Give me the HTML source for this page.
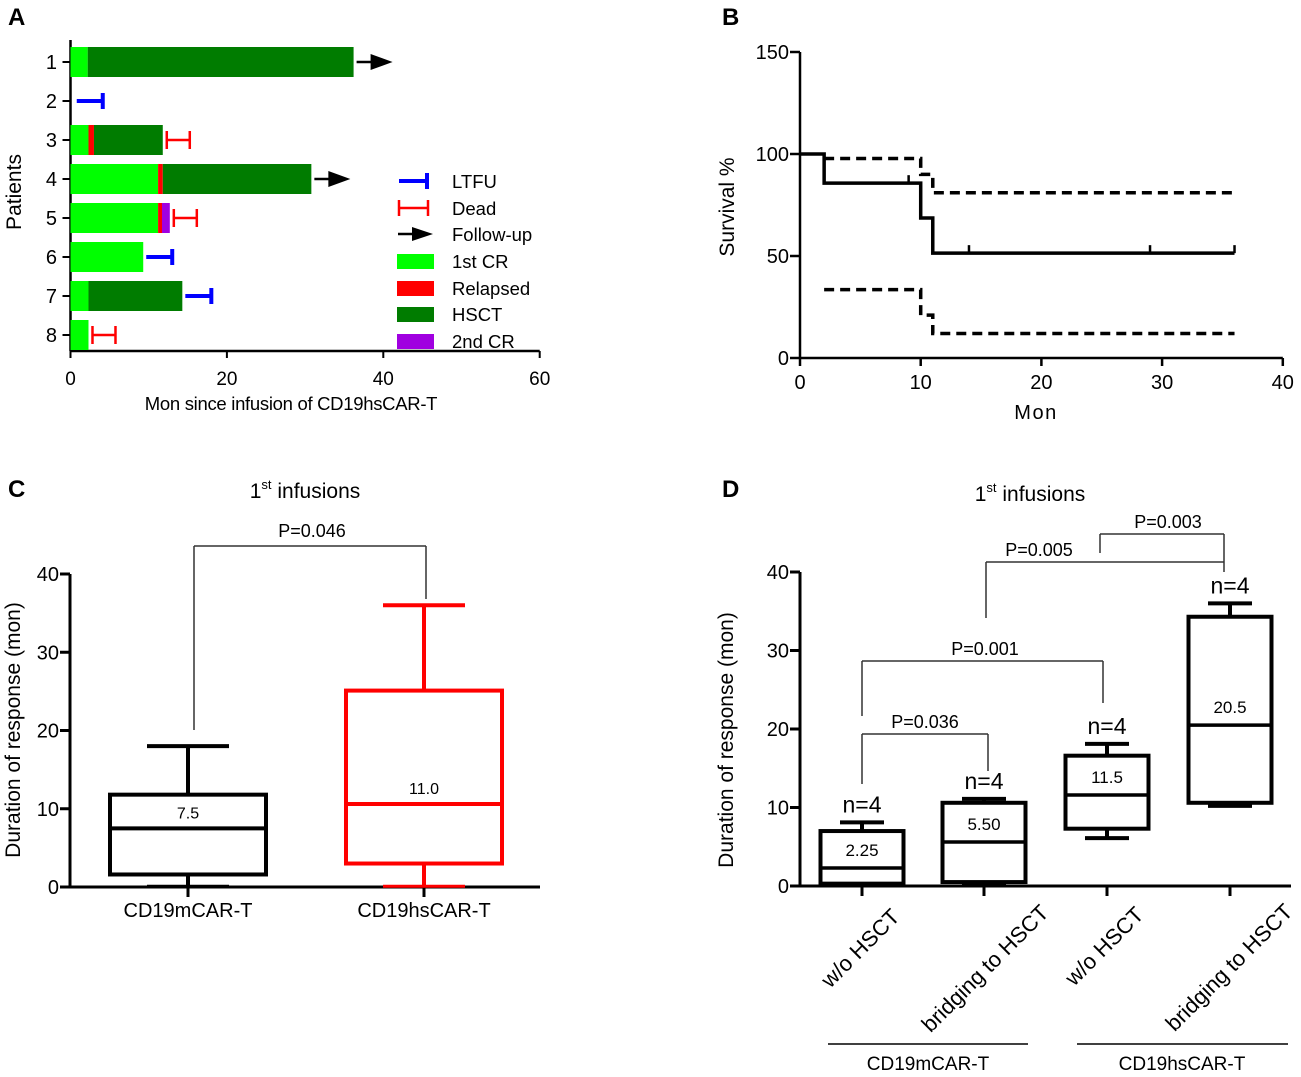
<!DOCTYPE html>
<html><head><meta charset="utf-8"><style>
html,body{margin:0;padding:0;background:#fff;}
svg{display:block;font-family:"Liberation Sans",Arial,sans-serif;}
</style></head><body>
<svg id="fig" width="1301" height="1077" viewBox="0 0 1301 1077" xmlns="http://www.w3.org/2000/svg">
<g id="A"></g>
<g id="B"></g>
<g id="C"></g>
<g id="D"></g>
</svg>
<script>
// ---- Panel A data ----
const patients = ["1","2","3","4","5","6","7","8"];
const cr1End = [2.2, 0, 2.3, 11.2, 11.2, 9.3, 2.3, 2.3];
const relapseEnd = [2.2, 0, 3.0, 11.8, 11.7, 9.3, 2.3, 2.3];
const cr2End = [2.2, 0, 3.0, 11.8, 12.7, 9.3, 2.3, 2.3];
const hsctEnd = [36.2, 0, 11.8, 30.8, 12.7, 9.3, 14.3, 2.3];
const outcome = ["follow","ltfu","dead","follow","dead","ltfu","ltfu","dead"];
const aTicks = [0,20,40,60];
// ---- Panel B data ----
const kmTimes = [0,2,10,11,36];
const kmSurv = [100,85.7,68.6,51.4,51.4];
const kmUpper = [null,97.8,90,81,81];
const kmLower = [null,33.5,21,12,12];
const kmCensor = [9,14,29,36];
const bXTicks = [0,10,20,30,40];
const bYTicks = [0,50,100,150];
// ---- Panel C data ----
const cGroups = ["CD19mCAR-T","CD19hsCAR-T"];
const cMin = [0.1,0.1];
const cQ1 = [1.6,3.0];
const cMed = [7.5,10.6];
const cQ3 = [11.8,25.1];
const cMax = [18,36];
const cMedLabels = ["7.5","11.0"];
const cColors = ["#000","#f00"];
const cYTicks = [0,10,20,30,40];
// ---- Panel D data ----
const dGroups = ["w/o HSCT","bridging to HSCT","w/o HSCT","bridging to HSCT"];
const dMin = [0.2,0.3,6.1,10.2];
const dQ1 = [0.3,0.5,7.3,10.6];
const dMed = [2.3,5.6,11.6,20.5];
const dQ3 = [7.0,10.6,16.6,34.3];
const dMax = [8.1,11.1,18.1,36];
const dMedLabels = ["2.25","5.50","11.5","20.5"];
const dYTicks = [0,10,20,30,40];

const NS="http://www.w3.org/2000/svg";
function mk(parent,tag,attrs,text){const e=document.createElementNS(NS,tag);for(const k in attrs)e.setAttribute(k,attrs[k]);if(text!==undefined)e.textContent=text;parent.appendChild(e);return e;}
function line(p,x1,y1,x2,y2,w,c,name,dash){const e=mk(p,'line',{x1,y1,x2,y2,stroke:c||'#000','stroke-width':w||2});if(dash)e.setAttribute('stroke-dasharray',dash);

return e;}
function txt(p,x,y,s,size,anchor,name,extra){const e=mk(p,'text',Object.assign({x,y,'font-size':size||18,'text-anchor':anchor||'middle',fill:'#000'},extra||{}),s);

return e;}

// ===== Panel A =====
(function(){
const g=document.getElementById('A');
const x0=70.5, ppu=7.82, y1=62, dy=39, bh=30;
const X=v=>x0+v*ppu; const Y=i=>y1+i*dy;
txt(g,8,25,'A',24,'start','panel-letter-a',{'font-weight':'bold'});
line(g,x0,40,x0,351,2.5,'#000','y-axis');
line(g,x0-1,351,X(60),351,2.5,'#000','x-axis');
aTicks.forEach(t=>{line(g,X(t),351,X(t),358,2,'#000','x-tick');txt(g,X(t),385,String(t),19,'middle','x-tick-label');});
patients.forEach((p,i)=>{
 const y=Y(i);
 line(g,x0-8,y,x0,y,2,'#000','y-tick');
 txt(g,57,y+7,p,20,'end','y-tick-label');
 const segs=[[0,cr1End[i],'#00ff00','bar-1st-cr'],[cr1End[i],relapseEnd[i],'#ff0000','bar-relapsed'],[relapseEnd[i],cr2End[i],'#a000e0','bar-2nd-cr'],[cr2End[i],hsctEnd[i],'#007c00','bar-hsct']];
 segs.forEach(s=>{if(s[1]>s[0]){const r=mk(g,'rect',{x:X(s[0]),y:y-bh/2,width:X(s[1])-X(s[0]),height:bh,fill:s[2]});
 
 }});
 const end=Math.max(hsctEnd[i],cr2End[i]);
 const ex=X(end)+3;
 if(outcome[i]==='follow'){line(g,ex,y,ex+18,y,2.5,'#000','follow-up-arrow');const a=mk(g,'polygon',{points:`${ex+14},${y-8} ${ex+36},${y} ${ex+14},${y+8}`,fill:'#000'});
 
 }
 else if(outcome[i]==='ltfu'){const sx=(i===1)?X(0.8):ex;line(g,sx,y,sx+26,y,4,'#0000ff','ltfu-marker');line(g,sx+26,y-8,sx+26,y+8,4,'#0000ff','ltfu-cap');}
 else {line(g,ex,y,ex+24,y,2.5,'#ff0000','dead-marker');line(g,ex+1,y-9,ex+1,y+9,2.5,'#ff0000','dead-cap');line(g,ex+24,y-9,ex+24,y+9,2.5,'#ff0000','dead-cap');}
});
txt(g,21,192,'Patients',21,'middle','y-axis-title',{transform:'rotate(-90 21 192)'});
txt(g,291,410,'Mon since infusion of CD19hsCAR-T',18.5,'middle','x-axis-title',{'letter-spacing':'-0.3'});
const leg=[['LTFU','ltfu',181],['Dead','dead',208],['Follow-up','follow',234],['1st CR','#00ff00',261],['Relapsed','#ff0000',288],['HSCT','#007c00',314],['2nd CR','#a000e0',341]];
leg.forEach(l=>{const y=l[2];
 if(l[1]==='ltfu'){line(g,399,y,427,y,4,'#0000ff','legend-ltfu-icon');line(g,427,y-8,427,y+8,4,'#0000ff','legend-ltfu-icon');}
 else if(l[1]==='dead'){line(g,398,y,428,y,2.5,'#f00','legend-dead-icon');line(g,399,y-8,399,y+8,2.5,'#f00','legend-dead-icon');line(g,428,y-8,428,y+8,2.5,'#f00','legend-dead-icon');}
 else if(l[1]==='follow'){line(g,398,y,416,y,2.5,'#000','legend-follow-icon');const a=mk(g,'polygon',{points:`${412},${y-7} ${433},${y} ${412},${y+7}`,fill:'#000'});
 
 }
 else {const r=mk(g,'rect',{x:397,y:y-7,width:37,height:15,fill:l[1]});
 
 }
 txt(g,452,y+7,l[0],18.5,'start','legend-entry');
});
})();

// ===== Panel B =====
(function(){
const g=document.getElementById('B');
const x0=800, xp=12.07, y0=358, yp=2.04;
const X=v=>x0+v*xp, Y=v=>y0-v*yp;
txt(g,722,25,'B',24,'start','panel-letter-b',{'font-weight':'bold'});
line(g,x0,Y(150),x0,y0+1,2.5,'#000','y-axis');
line(g,x0-1,y0,X(40),y0,2.5,'#000','x-axis');
bYTicks.forEach(t=>{line(g,x0-10,Y(t),x0,Y(t),2.5,'#000','y-tick');txt(g,789,Y(t)+7,String(t),20,'end','y-tick-label');});
bXTicks.forEach(t=>{line(g,X(t),y0,X(t),y0+8,2.5,'#000','x-tick');txt(g,X(t),389,String(t),20,'middle','x-tick-label');});
txt(g,734,207,'Survival %',21,'middle','y-axis-title',{transform:'rotate(-90 734 207)'});
txt(g,1036,419,'Mon',20,'middle','x-axis-title',{'letter-spacing':'1.5'});
function stepPath(vals,startIdx){let d='';for(let i=startIdx;i<kmTimes.length-1;i++){const v=vals[i];
 if(d==='')d+=`M${X(kmTimes[i])},${Y(v)}`;else d+=` L${X(kmTimes[i])},${Y(v)}`;
 d+=` L${X(kmTimes[i+1])},${Y(v)}`;}return d;}
let p=mk(g,'path',{d:stepPath(kmSurv,0),fill:'none',stroke:'#000','stroke-width':3.5});


p=mk(g,'path',{d:stepPath(kmUpper,1),fill:'none',stroke:'#000','stroke-width':3.5,'stroke-dasharray':'10 6'});


p=mk(g,'path',{d:stepPath(kmLower,1),fill:'none',stroke:'#000','stroke-width':3.5,'stroke-dasharray':'10 6'});


kmCensor.forEach(t=>{let v=kmSurv[0];for(let i=0;i<kmTimes.length;i++){if(kmTimes[i]<=t&&i<kmTimes.length-1)v=kmSurv[i];}
 line(g,X(t),Y(v)-8,X(t),Y(v),2.5,'#000','censor-mark');});
})();

// ===== Panel C =====
(function(){
const g=document.getElementById('C');
const x0=70, y0=887, yp=7.825;
const Y=v=>y0-v*yp;
const centers=[188,424], halfW=78, capW=41;
txt(g,8,497,'C',24,'start','panel-letter-c',{'font-weight':'bold'});
const t=txt(g,305,498,'',21,'middle','chart-title-c');
mk(t,'tspan',{},'1');mk(t,'tspan',{dy:-9,'font-size':13},'st');mk(t,'tspan',{dy:9},' infusions');
line(g,x0,Y(40),x0,y0+1,3,'#000','y-axis');
line(g,x0-1,y0,540,y0,3,'#000','x-axis');
cYTicks.forEach(v=>{line(g,x0-10,Y(v),x0,Y(v),3,'#000','y-tick');txt(g,59,Y(v)+7,String(v),20,'end','y-tick-label');});
txt(g,20,730,'Duration of response (mon)',21,'middle','y-axis-title',{transform:'rotate(-90 20 730)'});
cGroups.forEach((name,i)=>{const cx=centers[i],c=cColors[i];
 line(g,cx,y0,cx,y0+10,3,'#000','x-tick');
 txt(g,cx,917,name,20,'middle','x-tick-label');
 line(g,cx,Y(cMax[i]),cx,Y(cQ3[i]),4,c,'whisker-upper');
 line(g,cx,Y(cMin[i]),cx,Y(cQ1[i]),4,c,'whisker-lower');
 line(g,cx-capW,Y(cMax[i]),cx+capW,Y(cMax[i]),4,c,'whisker-cap');
 line(g,cx-capW,Y(cMin[i]),cx+capW,Y(cMin[i]),3,c,'whisker-cap');
 const r=mk(g,'rect',{x:cx-halfW,y:Y(cQ3[i]),width:2*halfW,height:Y(cQ1[i])-Y(cQ3[i]),fill:'none',stroke:c,'stroke-width':4});
 
 
 line(g,cx-halfW,Y(cMed[i]),cx+halfW,Y(cMed[i]),4,c,'median-line');
 txt(g,cx,Y(cMed[i])-10,cMedLabels[i],16,'middle','median-label');
});
line(g,194,546,426,546,1.5,'#333','p-bracket');
line(g,194,546,194,730,1.5,'#333','p-bracket');
line(g,426,546,426,599,1.5,'#333','p-bracket');
txt(g,312,537,'P=0.046',18,'middle','p-value-label');
})();

// ===== Panel D =====
(function(){
const g=document.getElementById('D');
const x0=800, y0=886, yp=7.85;
const Y=v=>y0-v*yp;
const centers=[862,984,1107,1230], halfW=41.5, capW=22;
txt(g,722,497,'D',24,'start','panel-letter-d',{'font-weight':'bold'});
const t=txt(g,1030,501,'',21,'middle','chart-title-d');
mk(t,'tspan',{},'1');mk(t,'tspan',{dy:-9,'font-size':13},'st');mk(t,'tspan',{dy:9},' infusions');
line(g,x0,Y(40),x0,y0+1,3,'#000','y-axis');
line(g,x0-1,y0,1291,y0,3,'#000','x-axis');
dYTicks.forEach(v=>{line(g,x0-10,Y(v),x0,Y(v),3,'#000','y-tick');txt(g,789,Y(v)+7,String(v),20,'end','y-tick-label');});
txt(g,733,740,'Duration of response (mon)',21,'middle','y-axis-title',{transform:'rotate(-90 733 740)'});
const labelAnchors=[[901,918],[1050,914],[1145,916],[1294,913]];
dGroups.forEach((name,i)=>{const cx=centers[i];
 line(g,cx,y0,cx,y0+10,3,'#000','x-tick');
 const a=labelAnchors[i];
 txt(g,a[0],a[1],name,22,'end','x-tick-label',{transform:`rotate(-45 ${a[0]} ${a[1]})`});
 line(g,cx,Y(dMax[i]),cx,Y(dQ3[i]),4,'#000','whisker-upper');
 line(g,cx,Y(dMin[i]),cx,Y(dQ1[i]),4,'#000','whisker-lower');
 line(g,cx-capW,Y(dMax[i]),cx+capW,Y(dMax[i]),4,'#000','whisker-cap');
 line(g,cx-capW,Y(dMin[i]),cx+capW,Y(dMin[i]),4,'#000','whisker-cap');
 const r=mk(g,'rect',{x:cx-halfW,y:Y(dQ3[i]),width:2*halfW,height:Y(dQ1[i])-Y(dQ3[i]),fill:'none',stroke:'#000','stroke-width':4});
 
 
 line(g,cx-halfW,Y(dMed[i]),cx+halfW,Y(dMed[i]),3.5,'#000','median-line');
 txt(g,cx,Y(dMed[i])-12,dMedLabels[i],17,'middle','median-label');
 txt(g,cx,Y(dMax[i])-10,'n=4',23,'middle','n-label');
});
function br(x1,x2,y,yl,yr,label,lx,ly){line(g,x1,y,x2,y,1.5,'#333','p-bracket');line(g,x1,y,x1,yl,1.5,'#333','p-bracket');line(g,x2,y,x2,yr,1.5,'#333','p-bracket');txt(g,lx,ly,label,18,'middle','p-value-label');}
br(862,988,734,784,771,'P=0.036',925,728);
br(862,1103,661,716,703,'P=0.001',985,655);
br(986,1224,562,618,572,'P=0.005',1039,556);
br(1100,1224,534,553,562,'P=0.003',1168,528);
line(g,828,1044,1028,1044,1.5,'#000','group-line-cd19m');
line(g,1077,1044,1288,1044,1.5,'#000','group-line-cd19hs');
txt(g,928,1070,'CD19mCAR-T',19,'middle','group-label');
txt(g,1182,1070,'CD19hsCAR-T',19,'middle','group-label');
})();
</script>
</body></html>
